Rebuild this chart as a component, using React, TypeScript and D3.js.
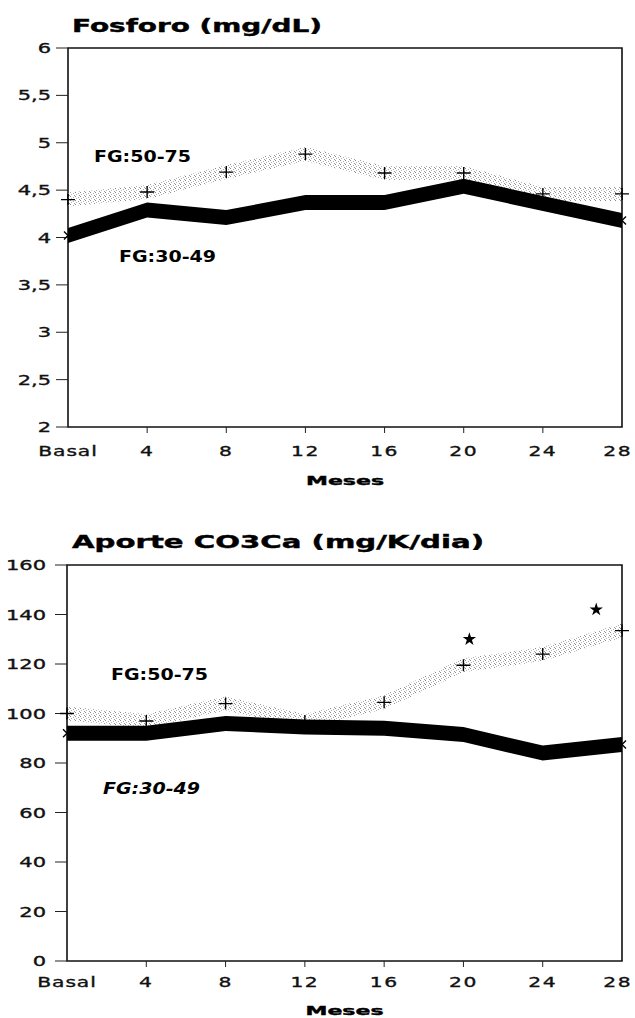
import React from "react";
import * as d3 from "d3";

const months = [0, 4, 8, 12, 16, 20, 24, 28];
const xTickLabels = ["Basal", "4", "8", "12", "16", "20", "24", "28"];

const fosforoLow = [4.02, 4.29, 4.21, 4.37, 4.37, 4.54, 4.36, 4.18];
const fosforoHigh = [4.4, 4.48, 4.69, 4.88, 4.68, 4.68, 4.46, 4.46];
const fosforoTicks = [2, 2.5, 3, 3.5, 4, 4.5, 5, 5.5, 6];

const co3Low = [92, 92, 96, 94.5, 94, 91.5, 84, 87.5];
const co3High = [100, 97, 104, 97, 104.5, 119.5, 124, 133.5];
const co3Ticks = [0, 20, 40, 60, 80, 100, 120, 140, 160];
const starMonths = [20.3, 26.7];
const starValues = [130, 142];

const W = 635;
const H = 1018;
const FONT = "'DejaVu Sans', 'Liberation Sans', sans-serif";

type PanelProps = {
  title: string;
  titleWidth: number;
  titleY: number;
  yDomain: [number, number];
  yRange: [number, number];
  xRange: [number, number];
  ticks: number[];
  fmt: (v: number) => string;
  low: number[];
  high: number[];
  labelRight: number;
  xLabelY: number;
  mesesY: number;
  hiLabel: [number, number];
  loLabel: [number, number];
  loItalic?: boolean;
  starsX?: number[];
  starsY?: number[];
};

function Panel(p: PanelProps) {
  const x = d3.scaleLinear().domain([0, 28]).range(p.xRange);
  const y = d3.scaleLinear().domain(p.yDomain).range(p.yRange);
  const [x0, x1] = p.xRange;
  const [yb, yt] = p.yRange;
  const hw = 7.5;
  const ribbon = (vals: number[], h: number) =>
    d3
      .area<number>()
      .x((_, i) => x(months[i]))
      .y0((d) => y(d) + h)
      .y1((d) => y(d) - h)(vals) || "";
  const plus = (cx: number, cy: number) =>
    `M${cx - 7},${cy}H${cx + 7}M${cx},${cy - 6}V${cy + 6}`;
  const cross = (cx: number, cy: number) =>
    `M${cx - 4},${cy - 4}L${cx + 4},${cy + 4}M${cx - 4},${cy + 4}L${cx + 4},${cy - 4}`;
  const star = d3.symbol().type(d3.symbolStar).size(55)() || "";
  return (
    <g>
      <text
        x={72}
        y={p.titleY}
        fontFamily={FONT}
        fontWeight="bold"
        fontSize={17}
        textLength={p.titleWidth}
        lengthAdjust="spacingAndGlyphs"
        stroke="#000"
        strokeWidth={0.4}
      >
        {p.title}
      </text>
      {/* frame */}
      <path
        d={`M${x0},${yt}V${yb}H${x1}V${yt}Z`}
        fill="none"
        stroke="#111"
        strokeWidth={1.6}
      />
      {/* y ticks */}
      {p.ticks.map((t) => (
        <g key={"yt" + t}>
          <line x1={x0 - 12} x2={x0} y1={y(t)} y2={y(t)} stroke="#222" strokeWidth={1} />
          <text
            transform={`translate(${p.labelRight},${y(t) + 5}) scale(1.5,1)`}
            textAnchor="end"
            fontFamily={FONT}
            fontSize={14}
            fill="#111"
            stroke="#111"
            strokeWidth={0.35}
          >
            {p.fmt(t)}
          </text>
        </g>
      ))}
      {/* x ticks */}
      {months.map((m, i) => {
        const last = i === months.length - 1;
        return (
          <g key={"xt" + m}>
            {i > 0 && !last && (
              <line x1={x(m)} x2={x(m)} y1={yb} y2={yb + 6} stroke="#222" strokeWidth={1} />
            )}
            <text
              transform={`translate(${last ? 632 : x(m)},${p.xLabelY}) scale(1.45,1)`}
              textAnchor={last ? "end" : "middle"}
              fontFamily={FONT}
              fontSize={14}
              letterSpacing={i === 0 ? 0.6 : 1}
              fill="#111"
              stroke="#111"
              strokeWidth={0.35}
            >
              {xTickLabels[i]}
            </text>
          </g>
        );
      })}
      <text
        x={(x0 + x1) / 2}
        y={p.mesesY}
        textAnchor="middle"
        fontFamily={FONT}
        fontWeight="bold"
        fontSize={13}
        textLength={78}
        lengthAdjust="spacingAndGlyphs"
        stroke="#000"
        strokeWidth={0.4}
      >
        Meses
      </text>
      {/* series */}
      <path d={ribbon(p.high, 7)} fill="url(#stip)" />
      <path d={ribbon(p.low, hw)} fill="#000" />
      {p.low.map((v, i) => (
        <path key={"lc" + i} d={cross(x(months[i]), y(v))} stroke="#000" strokeWidth={1.4} fill="none" />
      ))}
      {p.high.map((v, i) => (
        <path key={"hp" + i} d={plus(x(months[i]), y(v))} stroke="#000" strokeWidth={1.4} fill="none" />
      ))}
      {(p.starsX || []).map((sx, i) => (
        <path
          key={"st" + i}
          d={star}
          transform={`translate(${x(sx)},${y((p.starsY || [])[i])})`}
          fill="#000"
        />
      ))}
      <text
        x={p.hiLabel[0]}
        y={p.hiLabel[1]}
        fontFamily={FONT}
        fontWeight="bold"
        fontSize={16}
        textLength={97}
        lengthAdjust="spacingAndGlyphs"
      >
        FG:50-75
      </text>
      <text
        x={p.loLabel[0]}
        y={p.loLabel[1]}
        fontFamily={FONT}
        fontWeight="bold"
        fontStyle={p.loItalic ? "italic" : "normal"}
        fontSize={16}
        textLength={97}
        lengthAdjust="spacingAndGlyphs"
      >
        FG:30-49
      </text>
    </g>
  );
}

export default function App() {
  const fmtComma = (v: number) => String(v).replace(".", ",");
  return (
    <svg
      width={W}
      height={H}
      style={{ position: "absolute", left: 0, top: 0, background: "#fff" }}
    >
      <defs>
        <pattern id="stip" width="5" height="4" patternUnits="userSpaceOnUse">
          <rect x="0" y="0" width="1" height="1" fill="#8a8a8a" />
          <rect x="3" y="1" width="1" height="1" fill="#aaa" />
          <rect x="1" y="2" width="1" height="1" fill="#b5b5b5" />
          <rect x="4" y="3" width="1" height="1" fill="#999" />
        </pattern>
      </defs>
      <rect width={W} height={H} fill="#fff" />
      <Panel
        title="Fosforo (mg/dL)"
        titleWidth={250}
        titleY={32}
        yDomain={[2, 6]}
        yRange={[427, 48]}
        xRange={[68, 622]}
        ticks={fosforoTicks}
        fmt={fmtComma}
        low={fosforoLow}
        high={fosforoHigh}
        labelRight={51}
        xLabelY={456}
        mesesY={485}
        hiLabel={[94, 162]}
        loLabel={[119, 262]}
      />
      <Panel
        title="Aporte CO3Ca (mg/K/dia)"
        titleWidth={412}
        titleY={548}
        yDomain={[0, 160]}
        yRange={[961, 565]}
        xRange={[67, 622]}
        ticks={co3Ticks}
        fmt={(v) => String(v)}
        low={co3Low}
        high={co3High}
        labelRight={46}
        xLabelY={987}
        mesesY={1015}
        hiLabel={[111, 680]}
        loLabel={[103, 794]}
        loItalic
        starsX={starMonths}
        starsY={starValues}
      />
    </svg>
  );
}
